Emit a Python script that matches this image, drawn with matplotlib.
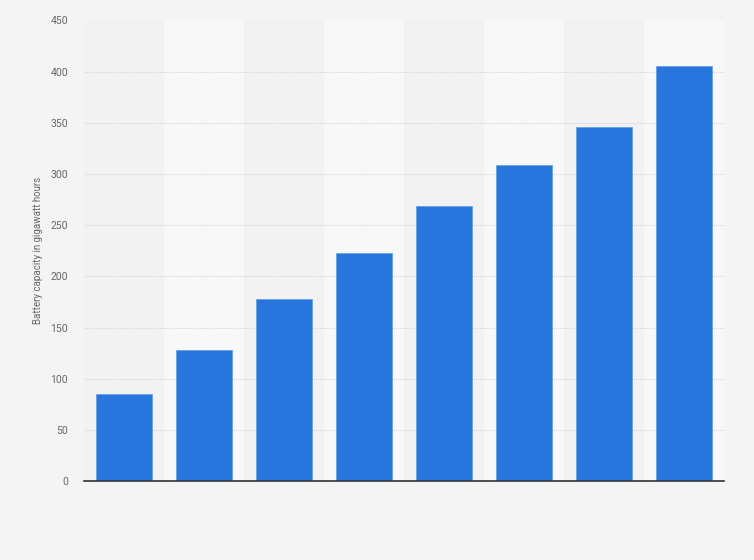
import matplotlib
matplotlib.use("Agg")
import matplotlib.pyplot as plt

categories = ["1", "2", "3", "4", "5", "6", "7", "8"]
values = [85, 128, 178, 223, 269, 309, 346, 406]
yticks = [0, 50, 100, 150, 200, 250, 300, 350, 400, 450]
ylabel = "Battery capacity in gigawatt hours"

plt.rcParams['font.family'] = ['Roboto', 'DejaVu Sans']

fig = plt.figure(figsize=(7.54, 5.6), dpi=100)
fig.patch.set_facecolor('#f4f4f4')
ax = fig.add_axes([84/754, 1 - 481/560, 640/754, (481 - 20.5)/560])
ax.set_facecolor('#f4f4f4')

x = list(range(len(categories)))
for i in x:
    ax.axvspan(i - 0.5, i + 0.5, color='#f2f2f2' if i % 2 == 0 else '#f8f8f8', zorder=0, lw=0)

ax.bar(x, values, width=0.7, color='#2876dd', edgecolor='#6a9fe8', linewidth=0.6, zorder=3)

ax.set_xlim(-0.5, len(categories) - 0.5)
ax.set_ylim(0, 450)
ax.set_yticks(yticks)
ax.set_yticklabels([str(t) for t in yticks], color='#666666', fontsize=7.5)
ax.set_xticks([])
ax.yaxis.grid(True, linestyle=(0, (1, 1)), color='#d6d6d6', linewidth=0.8, zorder=1)
ax.set_axisbelow(True)
for s in ['top', 'right', 'left']:
    ax.spines[s].set_visible(False)
ax.spines['bottom'].set_color('#333333')
ax.spines['bottom'].set_linewidth(1.2)
ax.spines['bottom'].set_zorder(4)
ax.tick_params(axis='y', length=0, pad=11.5)
ax.set_ylabel(ylabel, color='#666666', fontsize=7, labelpad=5)

fig.savefig('out.png', dpi=100, facecolor=fig.get_facecolor())
